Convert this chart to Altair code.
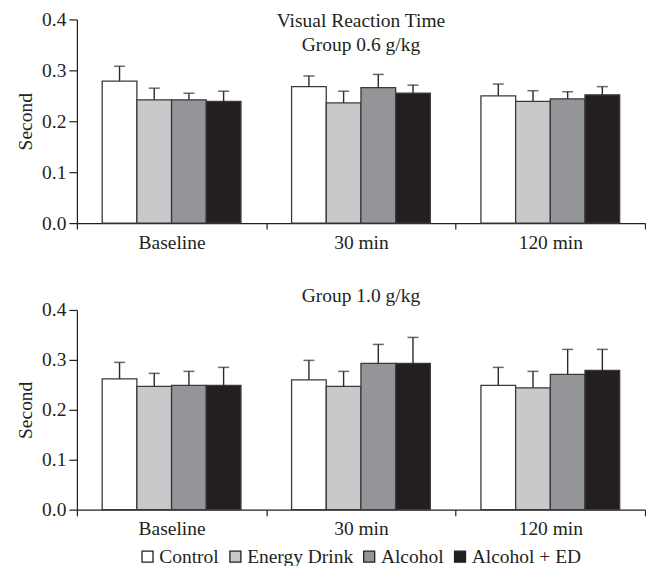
import altair as alt
import pandas as pd

times = ["Baseline", "30 min", "120 min"]
groups = ["Control", "Energy Drink", "Alcohol", "Alcohol + ED"]
colors = ["#ffffff", "#c8c9cb", "#939598", "#231f20"]

# Group 0.6 g/kg: mean per time (Baseline, 30 min, 120 min) and top of error bar
g06_mean = {
    "Control":      [0.279, 0.268, 0.250],
    "Energy Drink": [0.242, 0.236, 0.239],
    "Alcohol":      [0.242, 0.266, 0.244],
    "Alcohol + ED": [0.239, 0.255, 0.252],
}
g06_upper = {
    "Control":      [0.308, 0.289, 0.273],
    "Energy Drink": [0.265, 0.259, 0.260],
    "Alcohol":      [0.255, 0.292, 0.258],
    "Alcohol + ED": [0.259, 0.271, 0.268],
}
# Group 1.0 g/kg
g10_mean = {
    "Control":      [0.262, 0.260, 0.249],
    "Energy Drink": [0.247, 0.247, 0.244],
    "Alcohol":      [0.249, 0.293, 0.271],
    "Alcohol + ED": [0.249, 0.293, 0.279],
}
g10_upper = {
    "Control":      [0.295, 0.299, 0.285],
    "Energy Drink": [0.273, 0.277, 0.277],
    "Alcohol":      [0.277, 0.331, 0.321],
    "Alcohol + ED": [0.285, 0.345, 0.321],
}

y_ticks = [0.0, 0.1, 0.2, 0.3, 0.4]
top_title = "Visual Reaction Time\nGroup 0.6 g/kg"
bottom_title = "Group 1.0 g/kg"

FONT = "Liberation Serif"
FS = 19.5
INK = "#231f20"
W = 569


def make_df(means, uppers):
    rows = []
    for g in groups:
        for i, t in enumerate(times):
            rows.append({"time": t, "group": g, "mean": means[g][i], "upper": uppers[g][i]})
    return pd.DataFrame(rows)


def panel(df, height, title, title_y):
    x = alt.X("time:N", sort=times,
              scale=alt.Scale(paddingInner=0, paddingOuter=0),
              axis=alt.Axis(title=None, tickBand="extent", labelAngle=0,
                            tickSize=6, labelPadding=4))
    xo = alt.XOffset("group:N", sort=groups,
                     scale=alt.Scale(paddingInner=0, paddingOuter=0.73))
    yscale = alt.Scale(domain=[0, 0.4], nice=False)
    bars = alt.Chart(df).mark_bar(stroke="#3a3a3a", strokeWidth=1.3).encode(
        x=x, xOffset=xo,
        y=alt.Y("mean:Q", scale=yscale,
                axis=alt.Axis(values=y_ticks, format=".1f", title="Second", grid=False,
                              tickSize=8, labelPadding=3, titlePadding=6)),
        color=alt.Color("group:N", sort=groups,
                        scale=alt.Scale(domain=groups, range=colors),
                        legend=alt.Legend(orient="none", legendX=61, legendY=528,
                                          direction="horizontal", title=None,
                                          symbolType="square", symbolSize=121,
                                          symbolStrokeColor=INK, symbolStrokeWidth=1.3,
                                          symbolOpacity=1,
                                          labelFont=FONT, labelFontSize=FS, labelColor=INK,
                                          labelOffset=2, columnPadding=6, padding=0)),
    )
    rules = alt.Chart(df).mark_rule(color="#2b2b2b", strokeWidth=1.4).encode(
        x=x, xOffset=xo, y=alt.Y("mean:Q", scale=yscale), y2="upper:Q")
    caps = alt.Chart(df).mark_tick(color="#2b2b2b", size=11, thickness=1.5).encode(
        x=x, xOffset=xo, y=alt.Y("upper:Q", scale=yscale))
    label = alt.Chart(pd.DataFrame({"t": [title]})).mark_text(
        font=FONT, fontSize=FS, color=INK, align="center", baseline="alphabetic",
        lineBreak="\n", lineHeight=24,
    ).encode(text="t:N", x=alt.value(W / 2), y=alt.value(title_y))
    return alt.layer(bars, rules, caps, label).properties(width=W, height=height)


top = panel(make_df(g06_mean, g06_upper), 204, top_title, 8)
bottom = panel(make_df(g10_mean, g10_upper), 200, bottom_title, -8)

chart = alt.vconcat(top, bottom, spacing=34).properties(
    padding={"left": 7, "top": 1, "right": 0, "bottom": 0}
).configure_view(stroke=None).configure_axis(
    labelFont=FONT, labelFontSize=FS, labelColor=INK,
    titleFont=FONT, titleFontSize=FS, titleColor=INK, titleFontWeight="normal",
    domainColor=INK, tickColor=INK, domainWidth=1.2, tickWidth=1.2,
)

chart.save("out.html", embed_options={"renderer": "svg", "actions": False})
